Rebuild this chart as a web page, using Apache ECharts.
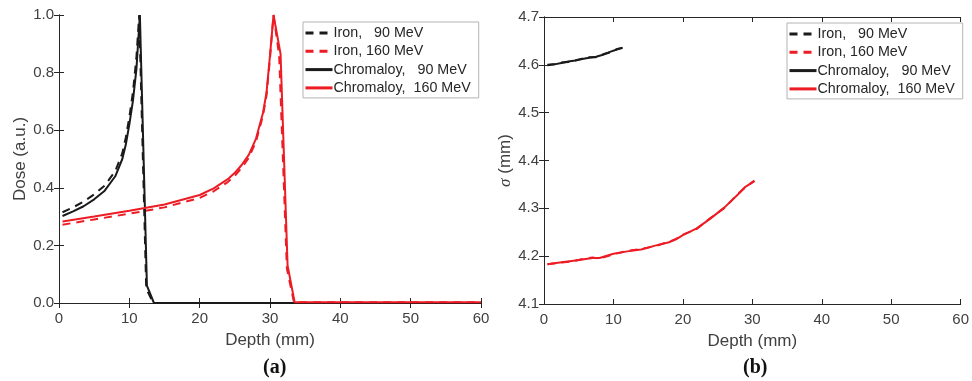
<!DOCTYPE html>
<html lang="en">
<head>
<meta charset="UTF-8">
<title>Dose and sigma vs depth</title>
<style>
    html, body { margin: 0; padding: 0; background: #fff; }
    #box { width: 972px; height: 381px; }
</style>
</head>
<body>
<div id="box"></div>
<script src="https://cdn.jsdelivr.net/npm/echarts@6/dist/echarts.min.js"></script>
<script>
    // 图 (a) 剂量 - 深度
    var depth90 = [0.5, 2, 3.5, 5, 6.5, 8, 9, 9.5, 10, 10.5, 11, 11.5, 12.5, 13.5, 60];
    var doseCr90 = [0.302, 0.318, 0.336, 0.360, 0.390, 0.440, 0.500, 0.550, 0.620, 0.700, 0.810, 1.0, 0.06, 0.0, 0.0];
    var depthFe90 = [0.5, 2, 3.5, 5, 6.5, 8, 9, 9.5, 10, 10.5, 11, 11.4, 12.4, 13.4, 60];
    var doseFe90 = [0.315, 0.332, 0.352, 0.377, 0.408, 0.458, 0.520, 0.575, 0.645, 0.730, 0.850, 1.0, 0.05, 0.0, 0.0];

    var depth160 = [0.5, 5, 10, 15, 20, 22, 24, 25, 26, 27, 28, 29, 29.5, 30, 30.5, 31.5, 32.5, 33.5, 60];
    var doseCr160 = [0.283, 0.300, 0.320, 0.342, 0.375, 0.398, 0.430, 0.452, 0.480, 0.515, 0.570, 0.660, 0.730, 0.860, 1.0, 0.865, 0.13, 0.003, 0.003];
    var depthFe160 = [0.5, 5, 10, 15, 20, 22, 24, 25, 26, 27, 28, 29, 29.5, 30, 30.5, 31.3, 32.4, 33.4, 60];
    var doseFe160 = [0.272, 0.290, 0.310, 0.332, 0.365, 0.388, 0.420, 0.442, 0.470, 0.505, 0.560, 0.650, 0.720, 0.850, 1.0, 0.86, 0.12, 0.003, 0.003];

    // 图 (b) sigma - 深度
    var sDepth90 = [0.5, 1.5, 2.5, 3.5, 4.5, 5.5, 6.5, 7.5, 8.5, 9.5, 10.5, 11.3];
    var sigmaCr90 = [4.600, 4.601, 4.604, 4.607, 4.609, 4.612, 4.615, 4.617, 4.621, 4.627, 4.632, 4.636];
    var sigmaFe90 = [4.599, 4.601, 4.605, 4.606, 4.609, 4.613, 4.616, 4.616, 4.622, 4.626, 4.633, 4.635];
    var sDepth160 = [0.5, 2, 4, 6, 7, 8, 10, 12, 14, 16, 18, 19, 20, 22, 24, 26, 28, 29, 30.3];
    var sigmaCr160 = [4.183, 4.186, 4.190, 4.194, 4.196, 4.196, 4.205, 4.210, 4.214, 4.222, 4.229, 4.235, 4.244, 4.258, 4.279, 4.302, 4.330, 4.345, 4.357];
    var sigmaFe160 = [4.183, 4.186, 4.189, 4.195, 4.197, 4.195, 4.204, 4.211, 4.215, 4.221, 4.230, 4.236, 4.245, 4.257, 4.280, 4.301, 4.331, 4.344, 4.358];

    var names = ['Iron,   90 MeV', 'Iron, 160 MeV', 'Chromaloy,   90 MeV', 'Chromaloy,  160 MeV'];

    var black = '#1a1a1a';
    var red = '#ed1c24';
    var axisColor = '#262626';
    var textColor = '#404040';
    var font = 'Liberation Sans, Arial, sans-serif';

    function zip(xs, ys) {
        return xs.map(function (x, i) { return [x, ys[i]]; });
    }

    function line(name, idx, xs, ys, color, dashed) {
        return {
            name: name,
            type: 'line',
            xAxisIndex: idx,
            yAxisIndex: idx,
            data: zip(xs, ys),
            symbol: 'none',
            smooth: false,
            animation: false,
            itemStyle: { color: color },
            lineStyle: { color: color, width: 2, type: dashed ? [8, 6] : 'solid' }
        };
    }

    // 主坐标轴 (带刻度标签)
    function xAxis(idx) {
        return {
            type: 'value', gridIndex: idx, min: 0, max: 60, interval: 10,
            name: 'Depth (mm)', nameLocation: 'middle', nameGap: 29,
            nameTextStyle: { color: textColor, fontSize: 17, fontFamily: font },
            axisLine: { lineStyle: { color: axisColor } },
            axisTick: { inside: true, length: 5, lineStyle: { color: axisColor } },
            axisLabel: { color: textColor, fontSize: 15, fontFamily: font, margin: 8 },
            splitLine: { show: false }
        };
    }
    function yAxis(idx, min, max, interval, name, gap) {
        return {
            type: 'value', gridIndex: idx, min: min, max: max, interval: interval,
            name: name, nameLocation: 'middle', nameGap: gap,
            nameTextStyle: {
                color: textColor, fontSize: 17, fontFamily: font,
                rich: { i: { fontStyle: 'italic', fontFamily: 'Liberation Serif, serif', fontSize: 17, color: textColor } }
            },
            axisLine: { show: true, lineStyle: { color: axisColor } },
            axisTick: { show: true, inside: true, length: 5, lineStyle: { color: axisColor } },
            axisLabel: {
                color: textColor, fontSize: 15, fontFamily: font, margin: 5,
                formatter: function (v) { return v.toFixed(1); }
            },
            splitLine: { show: false }
        };
    }
    // 镜像坐标轴 (上/右边框刻度)
    function xMirror(idx) {
        return {
            type: 'value', gridIndex: idx, position: 'top', min: 0, max: 60, interval: 10,
            axisLine: { lineStyle: { color: axisColor } },
            axisTick: { inside: true, length: 5, lineStyle: { color: axisColor } },
            axisLabel: { show: false }, splitLine: { show: false }
        };
    }
    function yMirror(idx, min, max, interval) {
        return {
            type: 'value', gridIndex: idx, position: 'right', min: min, max: max, interval: interval,
            axisLine: { show: true, lineStyle: { color: axisColor } },
            axisTick: { show: true, inside: true, length: 5, lineStyle: { color: axisColor } },
            axisLabel: { show: false }, splitLine: { show: false }
        };
    }
    function legend(left, top) {
        return {
            data: names, orient: 'vertical', left: left, top: top,
            itemWidth: 27, itemHeight: 14, itemGap: 4.3,
            padding: [4, 8, 3, 1],
            borderColor: '#b4b4b4', borderWidth: 1, backgroundColor: '#fff',
            itemStyle: { opacity: 0 },
            lineStyle: { width: 3 },
            textStyle: { color: '#262626', fontSize: 14.3, fontFamily: font, padding: [0, 0, 0, -4] },
            selectedMode: false
        };
    }

    var myChart = echarts.init(document.getElementById('box'));
    var option = {
        animation: false,
        backgroundColor: '#fff',
        grid: [
            { left: 59, top: 15, width: 422, height: 288 },
            { left: 544, top: 17, width: 421, height: 287 }
        ],
        xAxis: [xAxis(0), xAxis(1), xMirror(0), xMirror(1)],
        yAxis: [
            yAxis(0, 0, 1, 0.2, 'Dose (a.u.)', 29),
            yAxis(1, 4.1, 4.7, 0.1, '{i|σ} (mm)', 29),
            yMirror(0, 0, 1, 0.2),
            yMirror(1, 4.1, 4.7, 0.1)
        ],
        legend: [legend(303, 22), legend(787, 23)],
        graphic: [
            { type: 'text', left: 263, top: 358, style: { text: '(a)', font: 'bold 20px "Liberation Serif", serif', fill: '#111' } },
            { type: 'text', left: 743, top: 358, style: { text: '(b)', font: 'bold 20px "Liberation Serif", serif', fill: '#111' } }
        ],
        series: [
            line(names[0], 0, depthFe90, doseFe90, black, true),
            line(names[1], 0, depthFe160, doseFe160, red, true),
            line(names[2], 0, depth90, doseCr90, black, false),
            line(names[3], 0, depth160, doseCr160, red, false),
            line(names[0], 1, sDepth90, sigmaFe90, black, true),
            line(names[1], 1, sDepth160, sigmaFe160, red, true),
            line(names[2], 1, sDepth90, sigmaCr90, black, false),
            line(names[3], 1, sDepth160, sigmaCr160, red, false)
        ]
    };

    option && myChart.setOption(option);
</script>
</body>
</html>
